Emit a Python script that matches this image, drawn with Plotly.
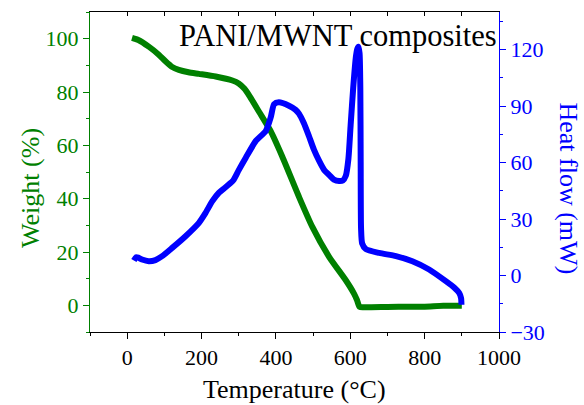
import plotly.graph_objects as go

# Weight (%) vs temperature (°C)
temp_weight = [13, 30, 58, 85, 103, 120, 139, 165, 193, 238, 283, 300, 315, 330, 355, 386, 417,
               462, 498, 543, 588, 610, 618, 625, 640, 700, 760, 800, 850, 900]
weight = [100.3, 99.5, 97.0, 94.0, 91.5, 89.5, 88.3, 87.4, 86.8, 85.8, 84.3, 83.2, 81.3, 78.3,
          72.5, 65.3, 55.8, 40.7, 29.4, 18.2, 9.4, 4.4, 2.0, -0.6, -0.7, -0.6, -0.5, -0.5,
          -0.2, -0.2]

# Heat flow (mW) vs temperature (°C)
temp_heat = [18, 24, 30, 40, 58, 76, 94, 121, 157, 193, 210, 229, 247, 262, 274, 285, 300,
             319, 346, 373, 386, 395, 408, 435, 453, 462, 475, 489, 502, 516, 530, 543, 556,
             570, 580, 588, 595, 601, 608, 615, 619, 622, 625, 627, 628, 629, 632, 642, 678,
             723, 767, 812, 857, 880, 893, 898, 899]
heat = [8.0, 9.7, 9.5, 8.5, 7.6, 8.2, 10.3, 14.7, 20.9, 28.0, 33.0, 39.5, 44.0, 46.5, 48.5,
        50.5, 56.0, 62.6, 71.5, 76.9, 84.0, 91.0, 92.0, 90.2, 88.0, 86.0, 81.0, 74.0, 67.0,
        61.0, 56.0, 53.5, 51.0, 50.2, 50.5, 53.0, 62.0, 80.0, 100.0, 116.0, 120.5, 121.5,
        118.0, 100.0, 60.0, 25.0, 17.0, 14.0, 12.0, 10.3, 7.6, 3.2, -3.0, -6.5, -9.3, -12.0,
        -15.5]

x_range = [-100, 1000]
weight_range = [-10, 110]
heat_range = [-30, 140]

GREEN = "#008000"
BLUE = "#0000FF"
FONT = "Liberation Serif"

fig = go.Figure()
fig.add_trace(go.Scatter(x=temp_weight, y=weight, mode="lines",
                         line=dict(color=GREEN, width=6, shape="spline", smoothing=0.6),
                         yaxis="y", xaxis="x", showlegend=False))
fig.add_trace(go.Scatter(x=temp_heat, y=heat, mode="lines",
                         line=dict(color=BLUE, width=6, shape="spline", smoothing=0.6),
                         yaxis="y2", xaxis="x", showlegend=False))
# invisible trace to create the top mirror axis
fig.add_trace(go.Scatter(x=[None], y=[None], xaxis="x2", yaxis="y",
                         showlegend=False, hoverinfo="skip"))

fig.update_layout(
    width=584, height=405,
    margin=dict(l=90, r=85, t=12, b=73),
    paper_bgcolor="white", plot_bgcolor="white",
    font=dict(family=FONT, size=22, color="black"),
    xaxis=dict(range=x_range, showgrid=False, zeroline=False,
               showline=True, linecolor="black", linewidth=1,
               ticks="outside", ticklen=6, tickcolor="black",
               tick0=0, dtick=200,
               minor=dict(dtick=100, tick0=0, ticks="outside", ticklen=3, tickcolor="black"),
               tickfont=dict(family=FONT, size=22, color="black")),
    xaxis2=dict(range=x_range, overlaying="x", side="top", anchor="y",
                showgrid=False, zeroline=False, showline=True, linecolor="black",
                ticks="inside", ticklen=4, tickcolor="black", tick0=0, dtick=100,
                showticklabels=False),
    yaxis=dict(range=weight_range, showgrid=False, zeroline=False,
               showline=True, linecolor=GREEN, linewidth=1,
               ticks="outside", ticklen=6, tickcolor=GREEN,
               tick0=0, dtick=20,
               minor=dict(dtick=10, tick0=0, ticks="outside", ticklen=3, tickcolor=GREEN),
               tickfont=dict(family=FONT, size=22, color=GREEN)),
    yaxis2=dict(range=heat_range, overlaying="y", side="right", anchor="x",
                showgrid=False, zeroline=False,
                showline=True, linecolor=BLUE, linewidth=1,
                ticks="outside", ticklen=6, tickcolor=BLUE,
                tick0=0, dtick=30,
                minor=dict(dtick=15, tick0=0, ticks="outside", ticklen=3, tickcolor=BLUE),
                tickfont=dict(family=FONT, size=22, color=BLUE)),
)

fig.add_annotation(text="Temperature (°C)", xref="paper", yref="paper",
                   x=0.501, y=-0.181, xanchor="center", yanchor="middle",
                   showarrow=False, font=dict(family=FONT, size=26, color="black"))
fig.add_annotation(text="Weight (%)", xref="paper", yref="paper",
                   x=-0.147, y=0.45, xanchor="center", yanchor="middle", textangle=-90,
                   showarrow=False, font=dict(family=FONT, size=26, color=GREEN))
fig.add_annotation(text="Heat flow (mW)", xref="paper", yref="paper",
                   x=1.170, y=0.45, xanchor="center", yanchor="middle", textangle=90,
                   showarrow=False, font=dict(family=FONT, size=26, color=BLUE))
fig.add_annotation(text="PANI/MWNT composites", xref="paper", yref="paper",
                   x=0.606, y=0.925, xanchor="center", yanchor="middle",
                   showarrow=False, font=dict(family=FONT, size=30.5, color="black"))

fig.write_html("out.html")
